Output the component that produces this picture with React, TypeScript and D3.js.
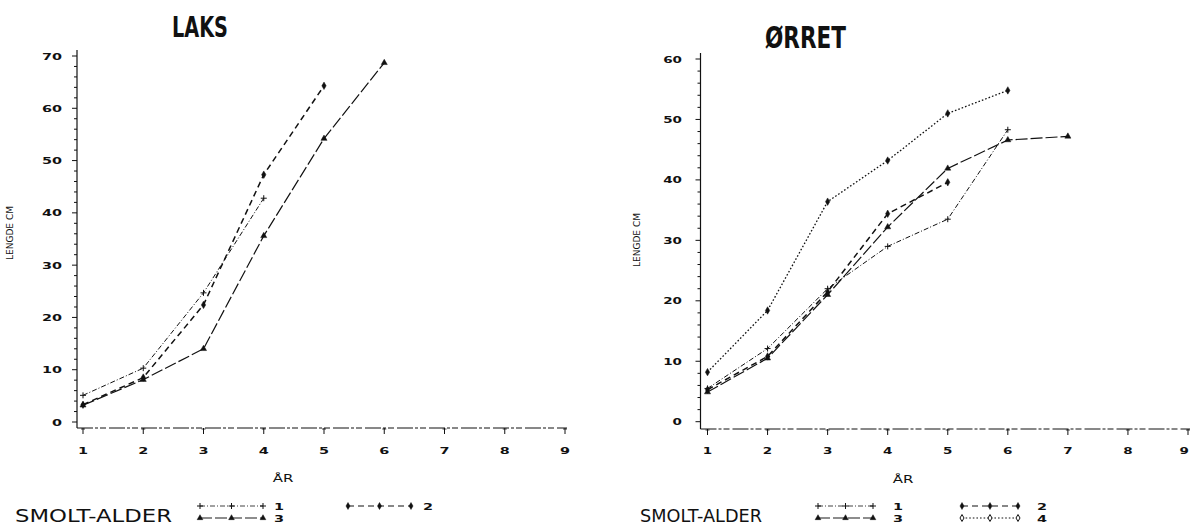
import React from "react";
import * as d3 from "d3";

// Age in years (x axis) and the length ticks of each panel
const years = [1, 2, 3, 4, 5, 6, 7, 8, 9];
const laksTicks = [0, 10, 20, 30, 40, 50, 60, 70];
const orretTicks = [0, 10, 20, 30, 40, 50, 60];

// Mean length (cm) per year, by smolt age. Salmon (LAKS)
const laksSmolt1 = [5.1, 10.3, 24.7, 42.8];
const laksSmolt2 = [3.3, 8.5, 22.4, 47.3, 64.3];
const laksSmolt3 = [3.2, 8.1, 14.0, 35.6, 54.2, 68.7];

// Trout (ØRRET)
const orretSmolt1 = [5.5, 12.1, 22.0, 29.0, 33.5, 48.3];
const orretSmolt2 = [5.3, 10.8, 21.5, 34.4, 39.6];
const orretSmolt3 = [4.9, 10.5, 21.0, 32.2, 41.9, 46.6, 47.2];
const orretSmolt4 = [8.2, 18.4, 36.4, 43.2, 51.0, 54.8];

type StyleKey = "s1" | "s2" | "s3" | "s4";

const lineStyles: Record<StyleKey, { dash: string; width: number; symbol: d3.SymbolType; fill: boolean }> = {
  s1: { dash: "5,2,1,2", width: 1.0, symbol: d3.symbolCross, fill: true },
  s2: { dash: "6,4", width: 1.5, symbol: d3.symbolDiamond, fill: true },
  s3: { dash: "12,3", width: 1.2, symbol: d3.symbolTriangle, fill: true },
  s4: { dash: "1.6,2", width: 1.3, symbol: d3.symbolDiamond, fill: false },
};

const INK = "#111";
const plotFont = "'DejaVu Sans', 'Liberation Sans', sans-serif";

function Wide(props: {
  x: number;
  y: number;
  size: number;
  sx: number;
  anchor?: "start" | "middle" | "end";
  weight?: string;
  children: React.ReactNode;
}) {
  const { x, y, size, sx, anchor = "start", weight = "bold", children } = props;
  return (
    <text
      transform={`translate(${x},${y}) scale(${sx},1)`}
      textAnchor={anchor}
      fontSize={size}
      fontFamily={plotFont}
      fontWeight={weight}
      fill={INK}
    >
      {children}
    </text>
  );
}

function Marker({ x, y, style, size = 22, solid = false }: { x: number; y: number; style: StyleKey; size?: number; solid?: boolean }) {
  const st = lineStyles[style];
  const path = d3.symbol().type(st.symbol).size(size)() as string;
  if (style === "s1") {
    return (
      <g transform={`translate(${x},${y})`} stroke={INK} strokeWidth={1}>
        <line x1={-3} x2={3} y1={0} y2={0} />
        <line x1={0} x2={0} y1={-3} y2={3} />
      </g>
    );
  }
  const filled = st.fill || solid;
  return (
    <path
      d={path}
      transform={`translate(${x},${y})`}
      fill={filled ? INK : "#fff"}
      stroke={INK}
      strokeWidth={filled ? 0.5 : 1}
    />
  );
}

type Series = { values: number[]; style: StyleKey };

type PanelProps = {
  title: string;
  titleX: number;
  titleBase: number;
  titleWidth: number;
  titleSize: number;
  axisX: number;
  axisTop: number;
  axisY: number;
  axisRight: number;
  xRange: [number, number];
  yRange: [number, number];
  yTicks: number[];
  labelRight: number;
  tickLabelSize: number;
  tickLabelSx: number;
  xLabelBase: number;
  yTitleX: number;
  yTitleY: number;
  yTitle: string;
  arX: number;
  arBase: number;
  series: Series[];
};

function Panel(p: PanelProps) {
  const x = d3.scaleLinear().domain([1, 9]).range(p.xRange);
  const yMax = p.yTicks[p.yTicks.length - 1];
  const y = d3.scaleLinear().domain([0, yMax]).range(p.yRange);
  const minor = d3.range(0, yMax + 0.001, 2);
  const line = d3
    .line<number>()
    .x((_, i) => x(years[i]))
    .y((d) => y(d));

  return (
    <g>
      {/* title */}
      <text
        x={p.titleX}
        y={p.titleBase}
        fontFamily="'DejaVu Sans Condensed', 'DejaVu Sans', sans-serif"
        fontWeight="bold"
        fontSize={p.titleSize}
        textLength={p.titleWidth}
        lengthAdjust="spacingAndGlyphs"
        fill={INK}
      >
        {p.title}
      </text>

      {/* y axis */}
      <line x1={p.axisX} x2={p.axisX} y1={p.axisTop} y2={p.axisY} stroke={INK} strokeWidth={1.2} />
      {minor.map((v) => (
        <line
          key={"m" + v}
          x1={p.axisX - (v % 10 === 0 ? 5 : 3)}
          x2={p.axisX}
          y1={y(v)}
          y2={y(v)}
          stroke={INK}
          strokeWidth={1}
        />
      ))}
      {p.yTicks.map((v) => (
        <Wide key={"yl" + v} x={p.labelRight} y={y(v) + 3.5} size={p.tickLabelSize} sx={p.tickLabelSx} anchor="end">
          {String(v)}
        </Wide>
      ))}
      <text
        transform={`translate(${p.yTitleX},${p.yTitleY}) rotate(-90)`}
        textAnchor="middle"
        fontSize={9}
        fontFamily={plotFont}
        fill={INK}
      >
        {p.yTitle}
      </text>

      {/* x axis */}
      <line
        x1={p.axisX}
        x2={p.axisRight}
        y1={p.axisY}
        y2={p.axisY}
        stroke={INK}
        strokeWidth={1}
        strokeDasharray="16,2,3,2,6,3"
      />
      {years.map((v, i) => {
        const last = i === years.length - 1 && x(v) > 1180;
        return (
          <g key={"xt" + v}>
            <line x1={x(v)} x2={x(v)} y1={p.axisY} y2={p.axisY + 6} stroke={INK} strokeWidth={1} />
            <line x1={x(v) - 2} x2={x(v) + 2} y1={p.axisY + 1} y2={p.axisY + 1} stroke={INK} strokeWidth={0.8} />
            <Wide
              x={last ? 1189 : x(v)}
              y={p.xLabelBase}
              size={p.tickLabelSize}
              sx={p.tickLabelSx}
              anchor={last ? "end" : "middle"}
            >
              {String(v)}
            </Wide>
          </g>
        );
      })}
      <Wide x={p.arX} y={p.arBase} size={10} sx={1.5} anchor="middle" weight="normal">
        ÅR
      </Wide>

      {/* growth curves */}
      {p.series.map((s, i) => {
        const st = lineStyles[s.style];
        return (
          <g key={"s" + i}>
            <path
              d={line(s.values) as string}
              fill="none"
              stroke={INK}
              strokeWidth={st.width}
              strokeDasharray={st.dash}
            />
            {s.values.map((v, j) => (
              <Marker key={j} x={x(years[j])} y={y(v)} style={s.style} size={16} solid />
            ))}
          </g>
        );
      })}
    </g>
  );
}

type LegendItem = { style: StyleKey; label: string; x0: number; x1: number; labelX: number; y: number };

function Legend({ titleX, titleWidth, items }: { titleX: number; titleWidth: number; items: LegendItem[] }) {
  return (
    <g>
      <text
        x={titleX}
        y={522}
        fontFamily={plotFont}
        fontSize={17}
        textLength={titleWidth}
        lengthAdjust="spacingAndGlyphs"
        fill={INK}
      >
        SMOLT-ALDER
      </text>
      {items.map((it) => {
        const st = lineStyles[it.style];
        const xs = [it.x0, (it.x0 + it.x1) / 2, it.x1];
        return (
          <g key={it.label}>
            <line
              x1={it.x0}
              x2={it.x1}
              y1={it.y}
              y2={it.y}
              stroke={INK}
              strokeWidth={st.width * 0.8}
              strokeDasharray={st.dash}
            />
            {xs.map((xx, k) => (
              <Marker key={k} x={xx} y={it.y} style={it.style} size={14} />
            ))}
            <Wide x={it.labelX} y={it.y + 3.5} size={9} sx={1.6} anchor="middle">
              {it.label}
            </Wide>
          </g>
        );
      })}
    </g>
  );
}

export default function App() {
  return (
    <svg width={1190} height={528} style={{ display: "block", position: "absolute", left: 0, top: 0, background: "#fff" }}>
      <rect x={0} y={0} width={1190} height={528} fill="#fff" />
      <Panel
        title="LAKS"
        titleX={172}
        titleBase={37}
        titleWidth={56}
        titleSize={28}
        axisX={77}
        axisTop={50}
        axisY={428}
        axisRight={567}
        xRange={[83, 565]}
        yRange={[422, 56]}
        yTicks={laksTicks}
        labelRight={62}
        tickLabelSize={9}
        tickLabelSx={1.6}
        xLabelBase={454}
        yTitleX={13}
        yTitleY={233}
        yTitle="LENGDE CM"
        arX={283}
        arBase={482}
        series={[
          { values: laksSmolt1, style: "s1" },
          { values: laksSmolt2, style: "s2" },
          { values: laksSmolt3, style: "s3" },
        ]}
      />
      <Panel
        title="ØRRET"
        titleX={765}
        titleBase={48}
        titleWidth={81}
        titleSize={30}
        axisX={700.5}
        axisTop={53}
        axisY={429}
        axisRight={1190}
        xRange={[707.5, 1188]}
        yRange={[421.7, 59]}
        yTicks={orretTicks}
        labelRight={682}
        tickLabelSize={9}
        tickLabelSx={1.5}
        xLabelBase={454}
        yTitleX={640}
        yTitleY={240}
        yTitle="LENGDE CM"
        arX={903}
        arBase={483}
        series={[
          { values: orretSmolt1, style: "s1" },
          { values: orretSmolt2, style: "s2" },
          { values: orretSmolt3, style: "s3" },
          { values: orretSmolt4, style: "s4" },
        ]}
      />
      <Legend
        titleX={15}
        titleWidth={157}
        items={[
          { style: "s1", label: "1", x0: 200, x1: 263, labelX: 279, y: 506 },
          { style: "s3", label: "3", x0: 200, x1: 263, labelX: 279, y: 518 },
          { style: "s2", label: "2", x0: 348, x1: 411, labelX: 428, y: 506 },
        ]}
      />
      <Legend
        titleX={640}
        titleWidth={122}
        items={[
          { style: "s1", label: "1", x0: 818, x1: 873, labelX: 898, y: 506 },
          { style: "s3", label: "3", x0: 818, x1: 873, labelX: 898, y: 518 },
          { style: "s2", label: "2", x0: 962, x1: 1018, labelX: 1042, y: 506 },
          { style: "s4", label: "4", x0: 962, x1: 1018, labelX: 1042, y: 518 },
        ]}
      />
    </svg>
  );
}
